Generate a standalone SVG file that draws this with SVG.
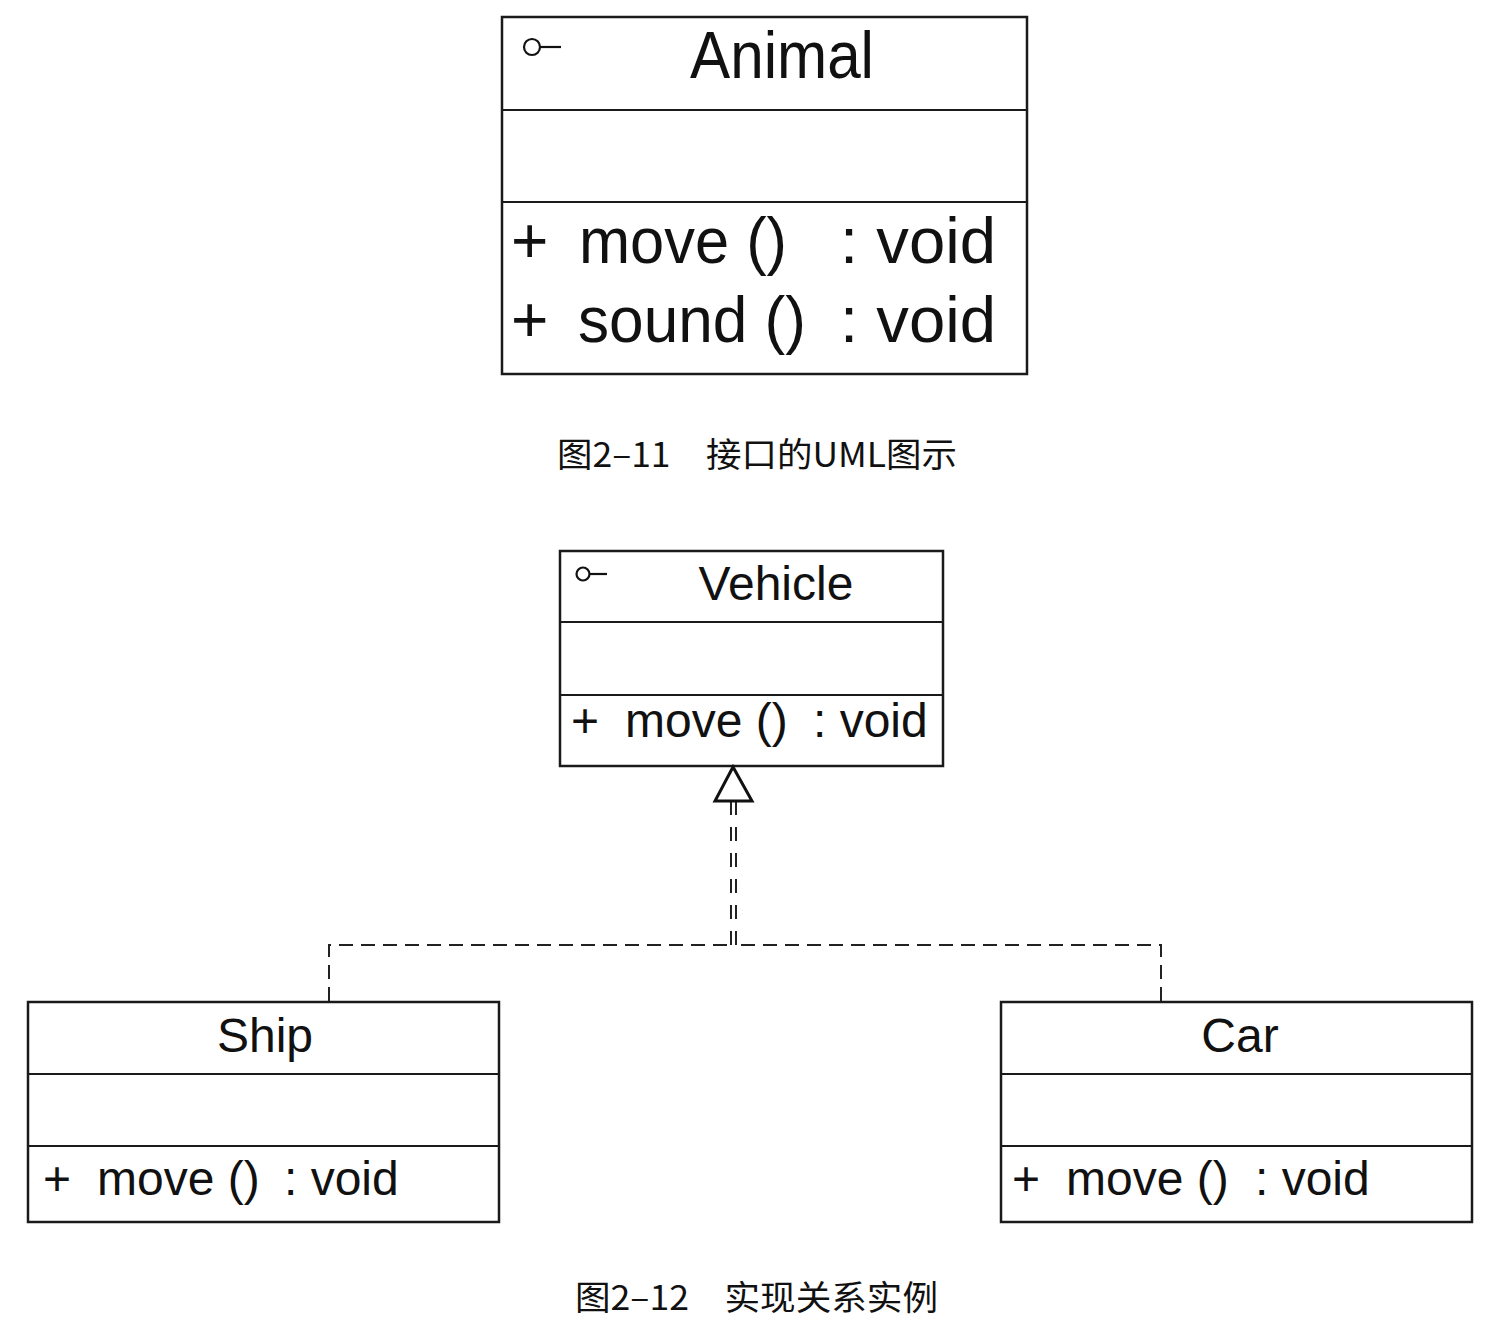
<svg xmlns="http://www.w3.org/2000/svg" width="1498" height="1324" viewBox="0 0 1498 1324">
<style>
.box{fill:#fff;stroke:#1a1a1a;stroke-width:2.5}
.div{stroke:#1a1a1a;stroke-width:2}
.t{font-family:"Liberation Sans",Arial,sans-serif;fill:#111}
.cap{font-family:"Noto Sans CJK SC","Liberation Sans",sans-serif;fill:#111;font-size:34px}
.icon{fill:none;stroke:#111;stroke-width:2.2}
.dash{fill:none;stroke:#222;stroke-width:2;stroke-dasharray:14 8}
.vdash{fill:none;stroke:#222;stroke-width:2;stroke-dasharray:14 12}
</style>
<rect width="1498" height="1324" fill="#fff"/>
<g id="animal">
<rect class="box" x="502" y="17" width="525" height="357"/>
<line class="div" x1="502" y1="110" x2="1027" y2="110"/>
<line class="div" x1="502" y1="202" x2="1027" y2="202"/>
<circle class="icon" cx="532" cy="47" r="8"/>
<line class="icon" x1="540" y1="47" x2="561" y2="47"/>
<text class="t" x="690" y="78" font-size="66" textLength="184" lengthAdjust="spacingAndGlyphs">Animal</text>
<text class="t" x="511" y="263" font-size="64">+</text>
<text class="t" x="579" y="263" font-size="64" textLength="208" lengthAdjust="spacingAndGlyphs">move ()</text>
<text class="t" x="840" y="263" font-size="64" textLength="156" lengthAdjust="spacingAndGlyphs">: void</text>
<text class="t" x="511" y="342" font-size="64">+</text>
<text class="t" x="578" y="342" font-size="64" textLength="228" lengthAdjust="spacingAndGlyphs">sound ()</text>
<text class="t" x="840" y="342" font-size="64" textLength="156" lengthAdjust="spacingAndGlyphs">: void</text>
</g>
<text class="cap" x="557" y="467" textLength="400" lengthAdjust="spacingAndGlyphs">图2–11　接口的UML图示</text>
<g id="vehicle">
<rect class="box" x="560" y="551" width="383" height="215"/>
<line class="div" x1="560" y1="622" x2="943" y2="622"/>
<line class="div" x1="560" y1="695" x2="943" y2="695"/>
<circle class="icon" cx="583" cy="574" r="6.5"/>
<line class="icon" x1="589.5" y1="574" x2="607" y2="574"/>
<text class="t" x="776" y="600" font-size="48" text-anchor="middle">Vehicle</text>
<text class="t" x="571" y="737" font-size="48">+</text>
<text class="t" x="625" y="737" font-size="48">move ()</text>
<text class="t" x="813" y="737" font-size="48">: void</text>
</g>
<g id="ship">
<rect class="box" x="28" y="1002" width="471" height="220"/>
<line class="div" x1="28" y1="1074" x2="499" y2="1074"/>
<line class="div" x1="28" y1="1146" x2="499" y2="1146"/>
<text class="t" x="265" y="1052" font-size="48" text-anchor="middle">Ship</text>
<text class="t" x="43" y="1195" font-size="48">+</text>
<text class="t" x="97" y="1195" font-size="48">move ()</text>
<text class="t" x="284" y="1195" font-size="48">: void</text>
</g>
<g id="car">
<rect class="box" x="1001" y="1002" width="471" height="220"/>
<line class="div" x1="1001" y1="1074" x2="1472" y2="1074"/>
<line class="div" x1="1001" y1="1146" x2="1472" y2="1146"/>
<text class="t" x="1240" y="1052" font-size="48" text-anchor="middle">Car</text>
<text class="t" x="1012" y="1195" font-size="48">+</text>
<text class="t" x="1066" y="1195" font-size="48">move ()</text>
<text class="t" x="1255" y="1195" font-size="48">: void</text>
</g>
<text class="cap" x="575" y="1310" textLength="363" lengthAdjust="spacingAndGlyphs">图2–12　实现关系实例</text>
<g id="connectors">
<path class="dash" d="M329,1001 V945 H731"/>
<path class="dash" d="M1161,1001 V945 H736"/>
<line class="vdash" x1="731" y1="945" x2="731" y2="802"/>
<line class="vdash" x1="736" y1="945" x2="736" y2="802"/>
<polygon points="733,767 715,801 752,801" fill="#fff" stroke="#111" stroke-width="3" stroke-linejoin="miter"/>
</g>
</svg>
